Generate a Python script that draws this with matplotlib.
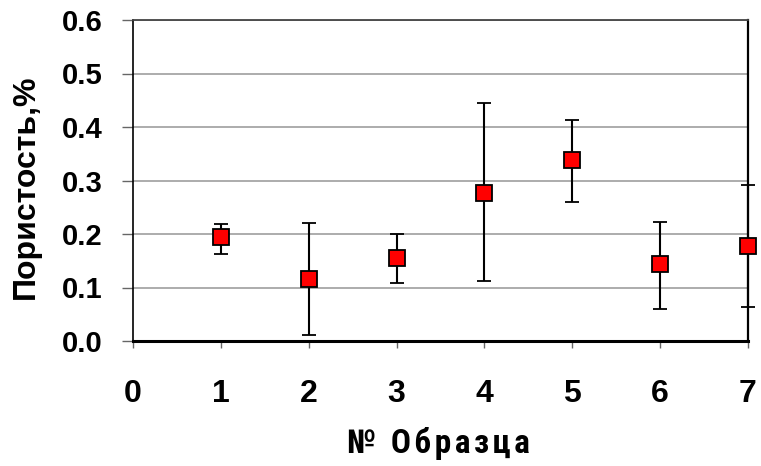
import matplotlib
matplotlib.use('Agg')
import matplotlib.pyplot as plt

samples = [1, 2, 3, 4, 5, 6, 7]
porosity = [0.195, 0.116, 0.156, 0.277, 0.338, 0.144, 0.178]
err_upper = [0.219, 0.220, 0.200, 0.445, 0.413, 0.222, 0.292]
err_lower = [0.163, 0.011, 0.108, 0.113, 0.260, 0.060, 0.063]
x_ticks = [0, 1, 2, 3, 4, 5, 6, 7]
y_ticks = [0.0, 0.1, 0.2, 0.3, 0.4, 0.5, 0.6]

yerr = [[p - lo for p, lo in zip(porosity, err_lower)],
        [hi - p for p, hi in zip(porosity, err_upper)]]

fig = plt.figure(figsize=(7.61, 4.66), dpi=100)
ax = fig.add_axes([133 / 761, 1 - 341 / 466, 615 / 761, 321 / 466])

ax.errorbar(samples, porosity, yerr=yerr, fmt='s', color='black', ecolor='black',
            elinewidth=1.5, capsize=5, capthick=1.5,
            markerfacecolor='#ff0000', markeredgecolor='black', markeredgewidth=1.3,
            markersize=11.5, clip_on=False, zorder=3)

ax.set_xlim(0, 7)
ax.set_ylim(0, 0.6)
ax.set_xticks(x_ticks)
ax.set_yticks(y_ticks)
ax.set_yticklabels([f'{v:.1f}' for v in y_ticks])
ax.yaxis.grid(True, color='#a6a6a6', linewidth=1.3)
ax.set_axisbelow(True)

for lbl in ax.get_yticklabels():
    lbl.set_fontfamily('Liberation Sans')
    lbl.set_fontweight('bold')
    lbl.set_fontsize(21)
for lbl in ax.get_xticklabels():
    lbl.set_fontfamily('Liberation Sans')
    lbl.set_fontweight('bold')
    lbl.set_fontsize(23)

ax.tick_params(axis='y', direction='out', length=8, width=1, color='#666666', pad=14)
ax.tick_params(axis='x', direction='out', length=5, width=1, color='#666666', pad=22)

ax.spines['bottom'].set_linewidth(2.2)
ax.spines['left'].set_linewidth(1.2)
ax.spines['right'].set_linewidth(1.6)
ax.spines['top'].set_linewidth(1.3)
ax.spines['top'].set_color('#444444')

fig.text(26 / 761, 1 - 187 / 466, 'Пористость,%', rotation=90, ha='center', va='center',
         fontfamily='Liberation Sans', fontweight='bold', fontsize=23)
# буквы подписи оси X в оригинале разрежены
xlabel = '\u200a'.join('№ Образца')
fig.text(438 / 761, 1 - 444 / 466, xlabel, ha='center', va='center',
         fontfamily=['Roboto Condensed', 'DejaVu Sans'], fontweight='bold', fontsize=24)

fig.savefig('out.png', dpi=100)
